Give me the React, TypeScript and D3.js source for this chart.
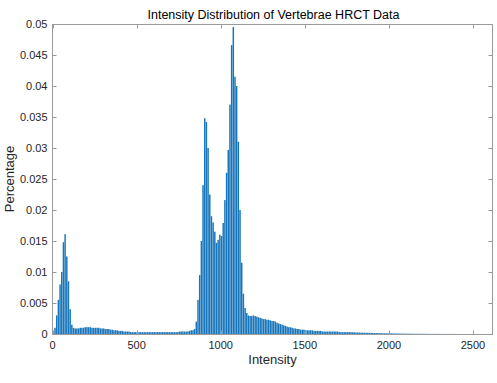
import React from "react";
import * as d3 from "d3";

const binWidth = 10;
const binStarts0 = 0;
const percentages: number[] = [
  0.0003, 0.0010, 0.0030, 0.0055, 0.0080, 0.0100, 0.0148, 0.0161, 0.0125, 0.0085,
  0.0040, 0.0015, 0.0010, 0.0009, 0.0009, 0.0009, 0.0010, 0.0010, 0.0010, 0.0011,
  0.0011, 0.0011, 0.0011, 0.0010, 0.0010, 0.0010, 0.0010, 0.0010, 0.0009, 0.0009,
  0.0009, 0.0008, 0.0008, 0.0008, 0.0007, 0.0007, 0.0006, 0.0006, 0.0006, 0.0005,
  0.0005, 0.0005, 0.0004, 0.0004, 0.0004, 0.0004, 0.0003, 0.0003, 0.0003, 0.0003,
  0.0003, 0.0003, 0.0003, 0.0003, 0.0003, 0.0003, 0.0003, 0.0003, 0.0003, 0.0003,
  0.0003, 0.0003, 0.0003, 0.0003, 0.0003, 0.0003, 0.0003, 0.0003, 0.0003, 0.0003,
  0.0003, 0.0003, 0.0003, 0.0003, 0.0003, 0.0004, 0.0004, 0.0004, 0.0004, 0.0004,
  0.0004, 0.0005, 0.0006, 0.0006, 0.0008, 0.0020, 0.0055, 0.0095, 0.0150, 0.0240,
  0.0348, 0.0342, 0.0300, 0.0225, 0.0190, 0.0180, 0.0165, 0.0147, 0.0152, 0.0160,
  0.0158, 0.0179, 0.0216, 0.0260, 0.0297, 0.0370, 0.0466, 0.0495, 0.0415, 0.0400,
  0.0310, 0.0200, 0.0115, 0.0065, 0.0042, 0.0034, 0.0030, 0.0029, 0.0029, 0.0030,
  0.0029, 0.0028, 0.0027, 0.0026, 0.0025, 0.0024, 0.0024, 0.0023, 0.0023, 0.0022,
  0.0021, 0.0021, 0.0020, 0.0018, 0.0017, 0.0016, 0.0015, 0.0014, 0.0013, 0.0012,
  0.0011, 0.0011, 0.0010, 0.0009, 0.0009, 0.0008, 0.0008, 0.0007, 0.0007, 0.0007,
  0.0006, 0.0006, 0.0006, 0.0006, 0.0006, 0.0005, 0.0005, 0.0005, 0.0005, 0.0005,
  0.0004, 0.0004, 0.0004, 0.0004, 0.0004, 0.0004, 0.0004, 0.0004, 0.0004, 0.0004,
  0.0003, 0.0003, 0.0003, 0.0003, 0.0003, 0.0003, 0.0003, 0.0003, 0.00028, 0.00026,
  0.00025, 0.00024, 0.00023, 0.00022, 0.00021, 0.0002, 0.0002, 0.0002, 0.00019, 0.00018,
  0.00017, 0.00016, 0.00015, 0.00015, 0.00014, 0.00013, 0.00012, 0.00012, 0.00011, 0.0001,
  0.0001, 0.0001, 0.00009, 0.00009, 0.00008, 0.00008, 0.00007, 0.00007, 0.00006, 0.00006,
  0.00006, 0.00005, 0.00005, 0.00005, 0.00004, 0.00004, 0.00004, 0.00004, 0.00003, 0.00003,
  0.00003, 0.00003, 0.00003, 0.00002, 0.00002, 0.00002, 0.00002, 0.00002, 0.00002, 0.00002,
  0.00001, 0.00001, 0.00001, 0.00001, 0.00001, 0.00001, 0.00001, 0.00001, 0.00001, 0.00001,
];

const xTicks = [0, 500, 1000, 1500, 2000, 2500];
const yTicks = [0, 0.005, 0.01, 0.015, 0.02, 0.025, 0.03, 0.035, 0.04, 0.045, 0.05];
const yTickLabels = ["0", "0.005", "0.01", "0.015", "0.02", "0.025", "0.03", "0.035", "0.04", "0.045", "0.05"];
const xDomainMax = 2616;
const titleText = "Intensity Distribution of Vertebrae HRCT Data";
const xLabelText = "Intensity";
const yLabelText = "Percentage";

const W = 497;
const H = 383;
const L = 52.5, R = 492.5, T = 24, B = 334;
const FONT = "'Liberation Sans', Arial, Helvetica, sans-serif";

export default function App() {
  const x = d3.scaleLinear().domain([0, xDomainMax]).range([L, R]);
  const y = d3.scaleLinear().domain([0, 0.05]).range([B, T]);
  const axisColor = "#9a9a9a";
  const textColor = "#262626";
  const tickLen = 4;
  const bw = x(binWidth) - x(0);

  return (
    <svg width={W} height={H} style={{ position: "absolute", left: 0, top: 0, background: "#fff" }}>
      <rect x={0} y={0} width={W} height={H} fill="#fff" />
      <g>
        {percentages.map((v, i) => {
          const s = binStarts0 + i * binWidth;
          const x0 = x(s) + bw * 0.06;
          const yy = y(v);
          return (
            <rect key={i} x={x0} y={yy} width={bw * 0.88} height={Math.max(0, B - yy)} fill="#1a76ba" />
          );
        })}
      </g>
      <rect x={L} y={T + 0.5} width={R - L} height={B - T} fill="none" stroke={axisColor} strokeWidth={1} />
      {xTicks.map((t) => {
        const px = Math.round(x(t)) + 0.5;
        return (
          <g key={"x" + t}>
            <line x1={px} x2={px} y1={B + 0.5} y2={B + 0.5 - tickLen} stroke={axisColor} />
            <line x1={px} x2={px} y1={T + 0.5} y2={T + 0.5 + tickLen} stroke={axisColor} />
            <text x={x(t)} y={B + 15} textAnchor="middle" fontFamily={FONT} fontSize={11} fill={textColor}>
              {t}
            </text>
          </g>
        );
      })}
      {yTicks.map((t, i) => {
        const py = Math.round(y(t)) + 0.5;
        return (
          <g key={"y" + t}>
            <line x1={L} x2={L + tickLen} y1={py} y2={py} stroke={axisColor} />
            <line x1={R} x2={R - tickLen} y1={py} y2={py} stroke={axisColor} />
            <text x={L - 5} y={y(t) + 4} textAnchor="end" fontFamily={FONT} fontSize={11} fill={textColor}>
              {yTickLabels[i]}
            </text>
          </g>
        );
      })}
      <text x={(L + R) / 2 + 1} y={T - 5} textAnchor="middle" fontFamily={FONT} fontSize={12.5} fill="#000">
        {titleText}
      </text>
      <text x={(L + R) / 2} y={B + 30} textAnchor="middle" fontFamily={FONT} fontSize={13} fill={textColor}>
        {xLabelText}
      </text>
      <text
        transform={`translate(${14}, ${(T + B) / 2}) rotate(-90)`}
        textAnchor="middle"
        fontFamily={FONT}
        fontSize={13}
        fill={textColor}
      >
        {yLabelText}
      </text>
    </svg>
  );
}
